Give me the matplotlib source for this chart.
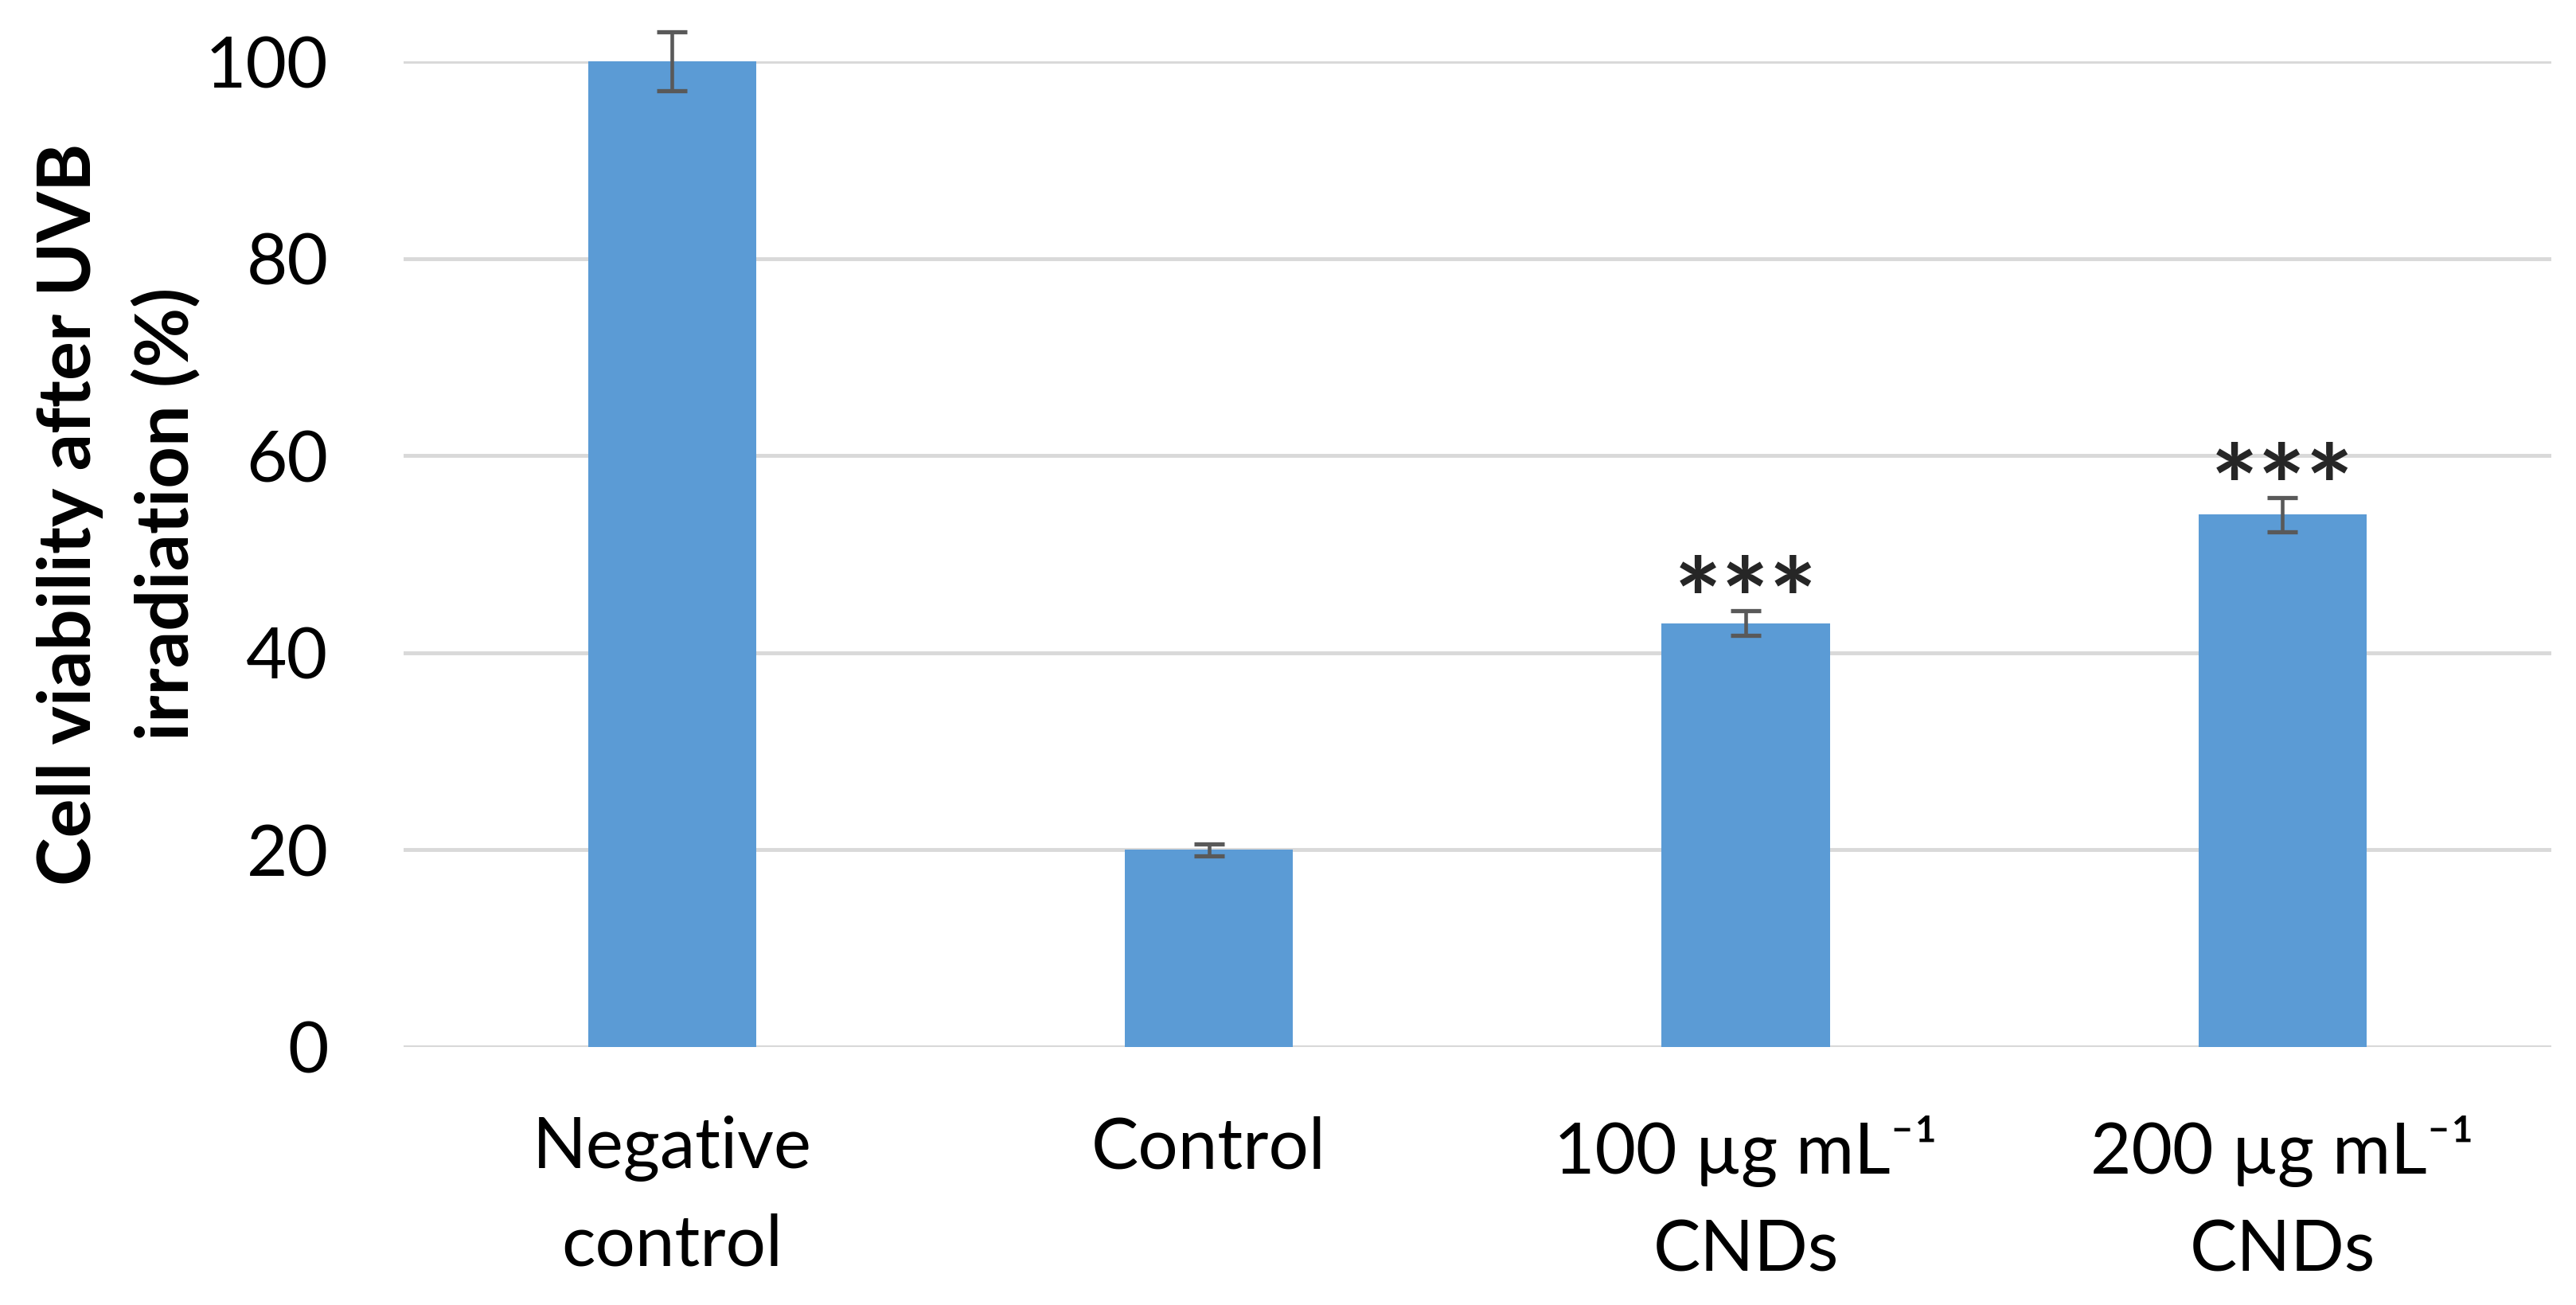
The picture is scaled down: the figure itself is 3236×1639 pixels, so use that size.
import matplotlib
matplotlib.use('Agg')
import matplotlib.pyplot as plt
import numpy as np

# donnees
groupes = ['Negative\ncontrol', 'Control', '100 µg mL\u207b\u00b9\nCNDs', '200 µg mL\u207b\u00b9\nCNDs']
viabilite = [100, 20, 43, 54]
erreurs = [3.0, 0.6, 1.25, 1.7]
etoiles = ['', '', '***', '***']

plt.rcParams['font.family'] = ['Lato', 'DejaVu Sans']

fig = plt.figure(figsize=(32.37, 16.39), dpi=100)
ax = fig.add_axes([0.1566, 0.1977, 0.8334, 0.7553])

x = np.arange(len(groupes))
ax.bar(x, viabilite, width=0.313, color='#5B9BD5', zorder=3)
ax.errorbar(x, viabilite, yerr=erreurs, fmt='none', ecolor='#595959',
            elinewidth=3.3, capsize=14, capthick=3.8, zorder=4, clip_on=False)

# etoiles de significativite
for xi, v, e, s in zip(x, viabilite, erreurs, etoiles):
    if s:
        ax.text(xi, v + e + 1.3, s, ha='center', va='center_baseline', fontsize=102,
                fontweight='bold', color='#262626', zorder=5)

ax.set_xlim(-0.5, len(groupes) - 0.5)
ax.set_ylim(0, 100)
ax.set_yticks([0, 20, 40, 60, 80, 100])
ax.yaxis.grid(True, color='#D9D9D9', linewidth=3.5, zorder=0)
ax.set_axisbelow(True)
for sp in ax.spines.values():
    sp.set_visible(False)
ax.axhline(0, color='#D9D9D9', linewidth=3.8, zorder=1)

ax.set_xticks(x)
ax.set_xticklabels(groupes, fontsize=64, linespacing=1.6)
ax.tick_params(axis='x', length=0, pad=62)
ax.tick_params(axis='y', length=0, pad=68, labelsize=64)

fig.text(0.046, 0.606, 'Cell viability after UVB\nirradiation (%)', rotation=90,
         ha='center', va='center', fontsize=66, fontweight='bold',
         multialignment='center', linespacing=1.5)

fig.savefig('out.png', dpi=100, facecolor='white')
